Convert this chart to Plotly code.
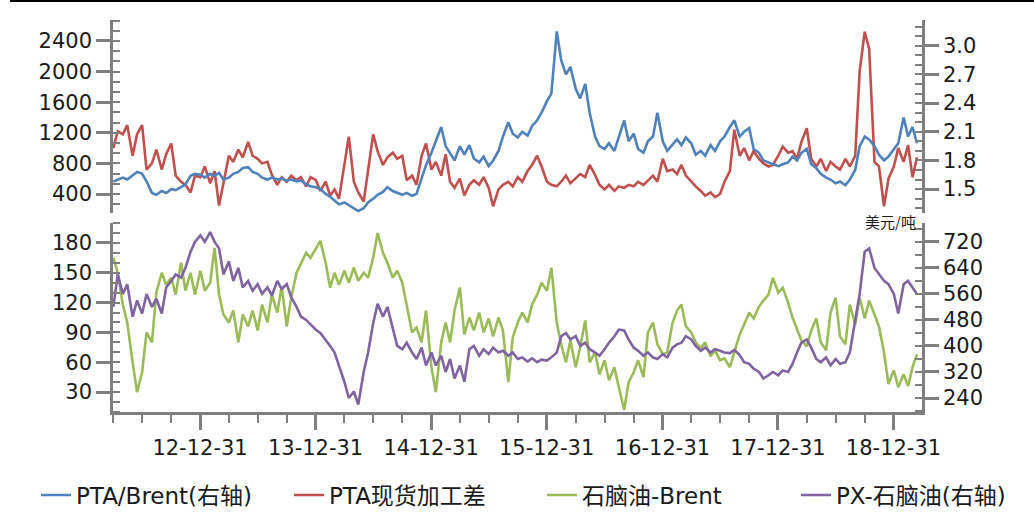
import pandas as pd
import plotly.graph_objects as go

# semi-monthly sample dates (1st and 15th), Apr 2012 - Mar 2019
dates = pd.date_range("2012-04-01", periods=168, freq="SMS")

# PTA/Brent (right axis, top panel)
pta_brent = [
    1.58,1.60,1.62,1.60,1.64,1.68,1.66,1.58,
    1.46,1.44,1.48,1.46,1.50,1.49,1.52,1.55,
    1.64,1.66,1.65,1.62,1.66,1.64,1.67,1.60,
    1.62,1.66,1.68,1.72,1.73,1.68,1.66,1.62,
    1.60,1.62,1.60,1.61,1.59,1.60,1.58,1.59,
    1.55,1.53,1.52,1.50,1.45,1.42,1.38,1.34,
    1.36,1.33,1.30,1.27,1.30,1.36,1.40,1.44,
    1.47,1.52,1.48,1.46,1.44,1.46,1.43,1.45,
    1.62,1.75,1.88,2.00,2.15,1.95,1.88,1.80,
    1.95,1.86,1.96,1.82,1.78,1.84,1.74,1.80,
    1.90,2.05,2.20,2.08,2.04,2.10,2.06,2.16,
    2.22,2.30,2.42,2.50,3.15,2.85,2.70,2.78,
    2.55,2.45,2.60,2.30,2.05,1.95,1.92,1.98,
    1.90,2.05,2.22,2.00,2.08,1.92,1.88,2.00,
    2.05,2.30,2.00,1.90,1.96,2.02,1.96,2.04,
    1.98,1.86,1.90,1.85,1.96,1.90,2.00,2.05,
    2.15,2.22,2.05,2.10,2.14,1.92,1.88,1.80,
    1.78,1.76,1.74,1.76,1.78,1.84,1.80,1.88,
    1.92,1.76,1.72,1.66,1.62,1.60,1.56,1.58,
    1.54,1.60,1.70,1.95,2.05,2.02,1.95,1.86,
    1.80,1.84,1.92,1.98,2.25,2.05,2.15,1.98,
]

# PTA现货加工差 (left axis, top panel)
pta_margin = [
    1000,1220,1180,1300,900,1180,1300,720,
    800,980,720,920,1060,640,560,520,
    420,640,620,760,540,700,250,560,
    900,820,980,880,1080,900,860,800,
    820,650,520,620,560,640,580,620,
    500,620,580,440,560,380,460,340,
    760,1150,560,420,300,720,1180,960,
    780,880,940,860,900,580,640,520,
    900,1060,720,820,640,920,560,480,
    600,380,520,580,520,620,480,240,
    460,520,560,500,620,560,700,780,
    900,760,560,520,500,560,640,540,
    600,660,620,780,650,520,460,520,
    440,500,480,520,500,560,520,580,
    640,560,860,700,720,660,780,640,
    560,500,440,380,420,360,400,560,
    700,1240,900,1000,840,960,860,800,
    760,780,900,1020,940,960,860,1080,
    1260,860,760,860,700,820,760,720,
    860,760,900,2000,2520,2300,820,760,
    240,600,760,1000,820,1040,620,880,
]

# 石脑油-Brent (left axis, bottom panel)
naphtha_brent = [
    165,150,118,100,60,30,50,90,
    80,130,150,138,145,128,160,132,
    150,128,152,132,140,175,128,108,
    100,112,80,108,96,112,92,118,
    100,128,110,136,96,125,150,160,
    170,165,175,182,160,135,150,138,
    152,140,155,142,150,145,165,190,
    170,160,145,152,140,118,90,95,
    80,112,55,30,80,100,80,112,
    135,88,105,92,110,90,104,86,
    105,92,40,85,100,110,100,118,
    128,140,132,155,100,78,60,82,
    55,75,102,60,70,48,62,42,
    55,35,12,40,50,62,45,90,
    100,78,68,70,100,112,118,96,
    90,80,74,80,66,72,62,64,
    55,70,88,98,110,104,116,122,
    128,145,130,135,120,105,94,82,
    76,92,104,80,72,110,125,86,
    78,118,98,125,104,122,108,96,
    70,38,52,35,48,36,55,68,
]

# PX-石脑油 (right axis, bottom panel)
px_naphtha = [
    520,620,560,590,490,540,500,560,
    520,545,500,580,600,620,610,640,
    690,720,740,720,750,720,700,620,
    660,600,640,580,600,570,590,560,
    580,555,600,575,590,550,520,490,
    480,465,450,440,420,400,380,340,
    290,240,260,220,320,380,470,530,
    490,520,450,400,390,410,380,360,
    395,340,380,340,370,320,360,300,
    340,290,390,400,370,390,375,395,
    380,385,370,380,360,365,352,362,
    350,358,355,365,380,430,440,420,
    430,400,410,390,380,370,390,410,
    430,450,448,420,395,385,370,380,
    365,360,375,365,395,405,410,430,
    420,400,385,395,380,390,385,380,
    378,388,372,350,345,330,320,300,
    310,320,310,325,320,345,380,410,
    420,395,360,350,365,340,360,345,
    350,380,480,560,690,700,640,620,
    600,590,560,500,590,600,580,560,
]

year_ticks = ["2012-12-31", "2013-12-31", "2014-12-31", "2015-12-31",
              "2016-12-31", "2017-12-31", "2018-12-31"]
year_labels = ["12-12-31", "13-12-31", "14-12-31", "15-12-31",
               "16-12-31", "17-12-31", "18-12-31"]

names = ["PTA/Brent(右轴)", "PTA现货加工差", "石脑油-Brent", "PX-石脑油(右轴)"]
colors = ["#4F81BD", "#C0504D", "#9BBB59", "#8064A2"]

FONT = "DejaVu Sans, Noto Sans CJK SC"
CJK = "Noto Sans CJK SC"
AX = "#7f7f7f"
TXT = "#1a1a1a"

fig = go.Figure()
fig.add_trace(go.Scatter(x=dates, y=pta_brent, name=names[0], xaxis="x2", yaxis="y2",
                         legend="legend", mode="lines",
                         line=dict(color=colors[0], width=2.6)))
fig.add_trace(go.Scatter(x=dates, y=pta_margin, name=names[1], xaxis="x2", yaxis="y",
                         legend="legend2", mode="lines",
                         line=dict(color=colors[1], width=2.6)))
fig.add_trace(go.Scatter(x=dates, y=naphtha_brent, name=names[2], xaxis="x", yaxis="y3",
                         legend="legend3", mode="lines",
                         line=dict(color=colors[2], width=2.6)))
fig.add_trace(go.Scatter(x=dates, y=px_naphtha, name=names[3], xaxis="x", yaxis="y4",
                         legend="legend4", mode="lines",
                         line=dict(color=colors[3], width=2.6)))

tickfont = dict(family=FONT, size=21, color=TXT)

def yax(**kw):
    d = dict(showline=True, linecolor=AX, linewidth=2.5, ticks="outside", ticklen=14,
             tickwidth=2.5, tickcolor=AX, showgrid=False, zeroline=False,
             tickfont=tickfont, fixedrange=True)
    d.update(kw)
    return d

def leg(xpx):
    return dict(orientation="h", x=(xpx - 113) / 809, xanchor="left",
                y=-0.212, yanchor="middle",
                font=dict(family=FONT, size=23, color=TXT),
                bgcolor="rgba(0,0,0,0)")

xrange = ["2012-03-31", "2019-03-31"]

fig.update_layout(
    width=1034, height=519,
    margin=dict(l=113, r=112, t=20, b=107, autoexpand=False),
    paper_bgcolor="white", plot_bgcolor="white",
    font=dict(family=FONT, color=TXT),
    xaxis=dict(domain=[0, 1], anchor="y3", type="date", range=xrange,
               tickmode="array", tickvals=year_ticks, ticktext=year_labels,
               showline=True, linecolor=AX, linewidth=2.5, ticks="outside", ticklen=15,
               tickwidth=2.5, tickcolor=AX, showgrid=False, tickfont=tickfont,
               minor=dict(ticks="outside", ticklen=8, tickwidth=2, tickcolor=AX,
                          dtick="M3", tick0="2012-01-01", showgrid=False)),
    xaxis2=dict(domain=[0, 1], anchor="y", matches="x", type="date", range=xrange,
                showline=False, showticklabels=False, ticks="", showgrid=False),
    yaxis=yax(domain=[0.5077, 1], anchor="x2", range=[152, 2674],
              tickmode="array", tickvals=[400, 800, 1200, 1600, 2000, 2400],
              minor=dict(ticks="inside", ticklen=7, tickwidth=2, tickcolor=AX,
                         dtick=400 / 3, tick0=0, showgrid=False)),
    yaxis2=yax(domain=[0.5077, 1], anchor="x2", overlaying="y", side="right",
               range=[1.25, 3.27], tickmode="array",
               tickvals=[1.5, 1.8, 2.1, 2.4, 2.7, 3.0],
               ticktext=["1.5", "1.8", "2.1", "2.4", "2.7", "3.0"],
               minor=dict(ticks="inside", ticklen=7, tickwidth=2, tickcolor=AX,
                          dtick=0.1, tick0=0, showgrid=False)),
    yaxis3=yax(domain=[0, 0.4821], anchor="x", range=[10, 200],
               tickmode="array", tickvals=[30, 60, 90, 120, 150, 180],
               minor=dict(ticks="inside", ticklen=7, tickwidth=2, tickcolor=AX,
                          dtick=10, tick0=0, showgrid=False)),
    yaxis4=yax(domain=[0, 0.4821], anchor="x", overlaying="y3", side="right",
               range=[197, 778], tickmode="array",
               tickvals=[240, 320, 400, 480, 560, 640, 720],
               minor=dict(ticks="inside", ticklen=7, tickwidth=2, tickcolor=AX,
                          dtick=40, tick0=0, showgrid=False)),
    legend=leg(36),
    legend2=leg(289),
    legend3=leg(542),
    legend4=leg(796),
    showlegend=True,
    annotations=[dict(text="美元/吨", xref="paper", yref="paper", x=0.995, y=0.4847,
                      xanchor="right", yanchor="middle", showarrow=False,
                      font=dict(family=CJK, size=15, color=TXT))],
    shapes=[dict(type="line", xref="paper", yref="paper",
                 x0=(10 - 113) / 809, x1=(1034 - 113) / 809,
                 y0=(412 - 1) / 392, y1=(412 - 1) / 392,
                 line=dict(color="black", width=2))],
)

fig.write_html("out.html", config={"displayModeBar": False},
               post_script="document.body.style.margin='0';document.body.style.overflow='hidden';")
